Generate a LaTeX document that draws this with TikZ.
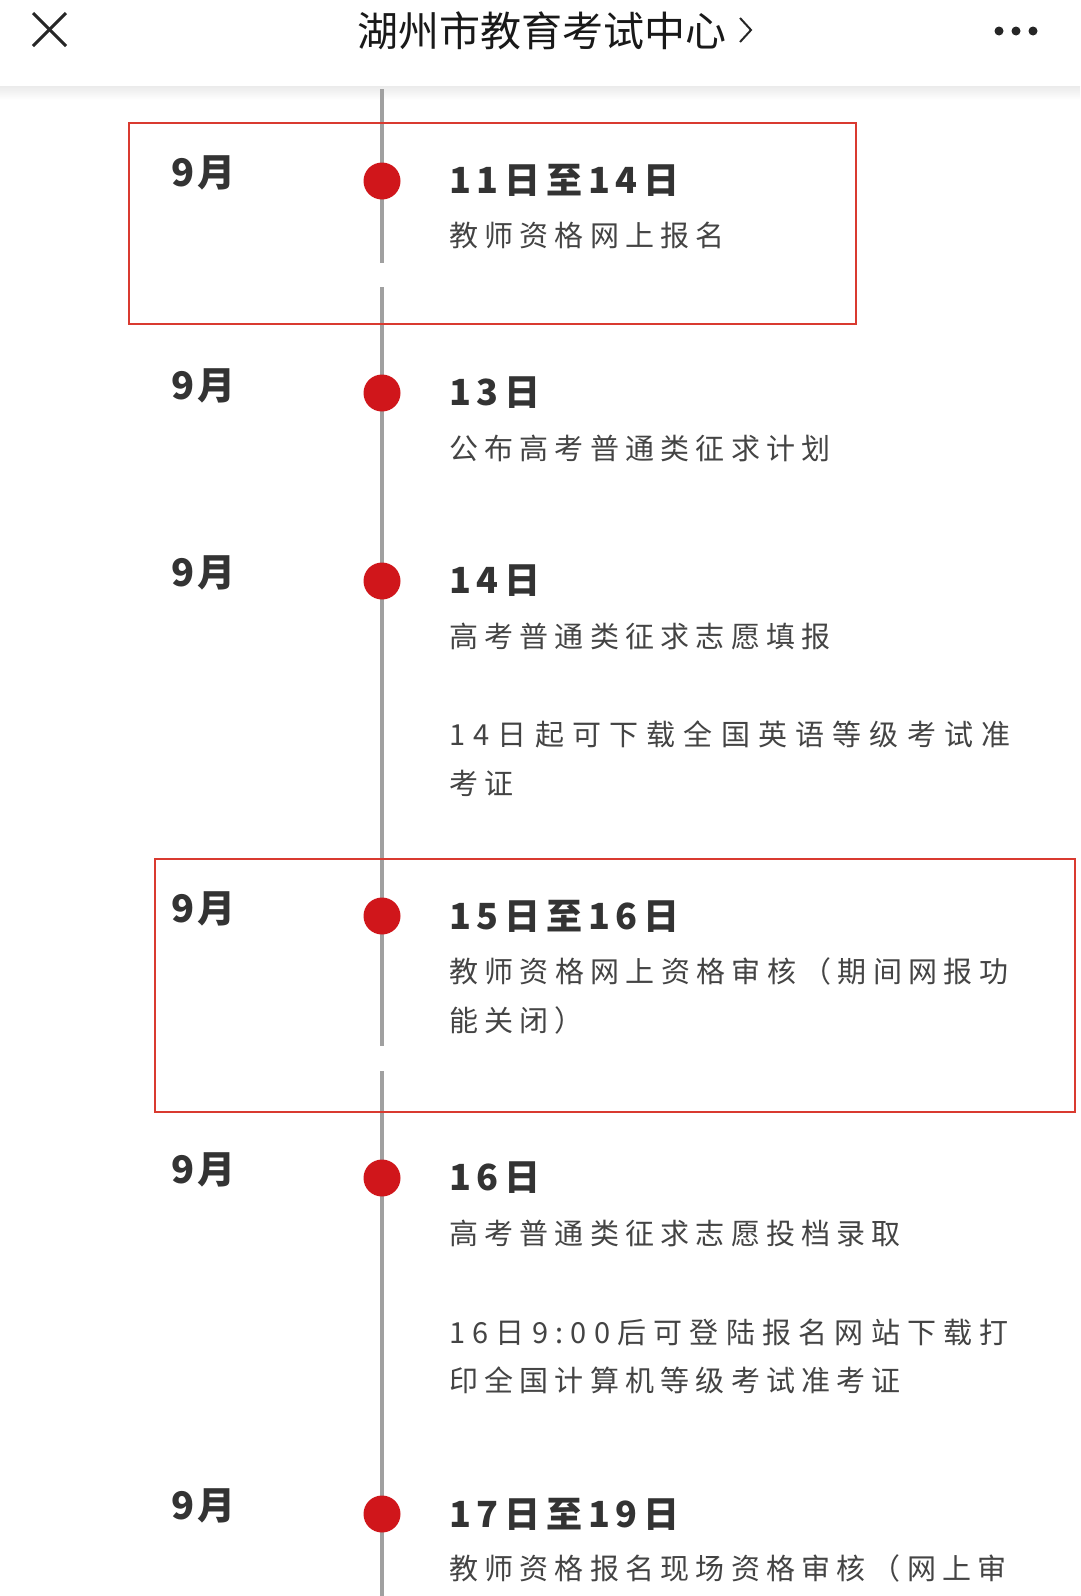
\documentclass[tikz,border=0pt]{standalone}
\usepackage{fontspec}
\setmainfont{Noto Sans CJK SC}
\newfontfamily\descfont{Noto Sans CJK SC}[LetterSpace=21.5]
\newfontfamily\headfont{Noto Sans CJK SC}[LetterSpace=16]
\newfontfamily\monthfont{Noto Sans CJK SC}[LetterSpace=8]
\newfontfamily\titlefont{Noto Sans CJK SC}
\definecolor{tlred}{HTML}{D0161B}
\definecolor{boxred}{HTML}{D93A30}
\definecolor{tlgray}{HTML}{A0A0A0}
\definecolor{txtdark}{HTML}{333333}
\definecolor{txtdesc}{HTML}{444444}
\begin{document}
\begin{tikzpicture}[x=1pt,y=-1pt,
  tline/.style={draw=tlgray,line width=4pt},
  hlbox/.style={draw=boxred,line width=2.5pt},
  dotnode/.style={circle,fill=tlred,draw=none,minimum size=37pt,inner sep=0pt},
  monthlbl/.style={anchor=west,inner sep=0pt,text=txtdark,font=\monthfont\bfseries\fontsize{38}{42}\selectfont},
  headlbl/.style={anchor=west,inner sep=0pt,text=txtdark,font=\headfont\bfseries\fontsize{36}{42}\selectfont},
  desclbl/.style={anchor=west,inner sep=0pt,text=txtdesc,font=\descfont\fontsize{29}{35}\selectfont},
  justline/.style={desclbl,font=\descfont\fontsize{29}{35}\selectfont\addfontfeature{LetterSpace=#1}},
  iconline/.style={draw=black!85,line width=3pt}
]
\useasboundingbox[fill=white] (0,0) rectangle (1080,1596);
% header
\shade[top color=black!8,bottom color=white] (0,86) rectangle (1080,100);
\draw[iconline] (33,13) -- (66,46);
\draw[iconline] (66,13) -- (33,46);
\node[inner sep=0pt,text=black!90,font=\titlefont\fontsize{41}{46}\selectfont] (title) at (542,31) {湖州市教育考试中心};
\draw[draw=black!85,line width=2pt] (740,18) -- (751,30) -- (740,42);
\fill[black!85] (999,31) circle (4.5) (1016,31) circle (4.5) (1033,31) circle (4.5);
% timeline
\coordinate (l0) at (382,89);
\coordinate (l1) at (382,263);
\coordinate (l2) at (382,287);
\coordinate (l3) at (382,1046);
\coordinate (l4) at (382,1071);
\coordinate (l5) at (382,1596);
\draw[tline] (l0) -- (l1);
\draw[tline] (l2) -- (l3);
\draw[tline] (l4) -- (l5);
% highlight boxes
\draw[hlbox] (129,123) rectangle (856,324);
\draw[hlbox] (155,859) rectangle (1075,1112);
% dots
\node[dotnode] (d1) at (382,181) {};
\node[dotnode] (d2) at (382,393) {};
\node[dotnode] (d3) at (382,581) {};
\node[dotnode] (d4) at (382,916) {};
\node[dotnode] (d5) at (382,1178) {};
\node[dotnode] (d6) at (382,1514) {};
% months
\node[monthlbl] (m1) at (171,173) {9月};
\node[monthlbl] (m2) at (171,386) {9月};
\node[monthlbl] (m3) at (171,573) {9月};
\node[monthlbl] (m4) at (171,909) {9月};
\node[monthlbl] (m5) at (171,1170) {9月};
\node[monthlbl] (m6) at (171,1506) {9月};
% entry 1
\node[headlbl] (h1) at (449,180) {11日至14日};
\node[desclbl] (e1a) at (449,235) {教师资格网上报名};
% entry 2
\node[headlbl] (h2) at (449,393) {13日};
\node[desclbl] (e2a) at (449,448) {公布高考普通类征求计划};
% entry 3
\node[headlbl] (h3) at (449,581) {14日};
\node[desclbl] (e3a) at (449,636) {高考普通类征求志愿填报};
\node[justline=28.3] (e3b) at (449,734) {14日起可下载全国英语等级考试准};
\node[desclbl] (e3c) at (449,783) {考证};
% entry 4
\node[headlbl] (h4) at (449,916) {15日至16日};
\node[justline=21.8] (e4a) at (449,971) {教师资格网上资格审核（期间网报功};
\node[desclbl] (e4b) at (449,1020) {能关闭）};
% entry 5
\node[headlbl] (h5) at (449,1178) {16日};
\node[desclbl] (e5a) at (449,1233) {高考普通类征求志愿投档录取};
\node[justline=25] (e5b) at (449,1332) {16日9:00后可登陆报名网站下载打};
\node[desclbl] (e5c) at (449,1380) {印全国计算机等级考试准考证};
% entry 6
\node[headlbl] (h6) at (449,1514) {17日至19日};
\node[desclbl] (e6a) at (449,1568) {教师资格报名现场资格审核（网上审};
\end{tikzpicture}
\end{document}
